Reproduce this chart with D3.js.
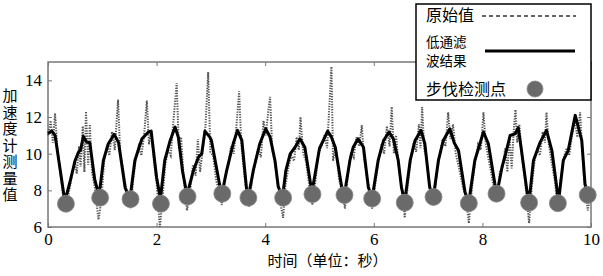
<!DOCTYPE html>
<html>
<head>
<meta charset="utf-8">
<script src="https://cdn.jsdelivr.net/npm/d3@7"></script>
<style>
  body { margin: 0; background: #fff; }
  svg { display: block; }
</style>
</head>
<body>
<div id="chart"></div>
<script>
// raw accelerometer samples (time s, value)
var rawT = [0.00,0.05,0.09,0.13,0.17,0.22,0.28,0.34,0.38,0.44,0.49,0.53,0.57,0.60,0.64,0.67,0.70,0.74,0.77,0.81,0.86,0.93,0.98,
  1.04,1.09,1.13,1.18,1.23,1.29,1.33,1.38,1.45,1.52,1.57,1.62,1.67,1.72,1.77,1.82,1.86,1.90,1.95,2.00,2.06,2.11,2.16,2.21,2.26,2.31,2.37,2.41,2.45,2.50,2.56,2.62,2.67,2.72,2.76,2.80,2.85,2.90,2.95,2.99,
  3.04,3.10,3.15,3.20,3.26,3.32,3.37,3.42,3.47,3.52,3.56,3.61,3.66,3.70,3.76,3.82,3.87,3.92,3.97,4.01,4.06,4.09,4.13,4.18,4.23,4.28,4.33,4.37,4.43,4.48,4.53,4.58,4.62,4.65,4.70,4.75,4.81,4.87,4.93,4.98,
  5.04,5.09,5.14,5.18,5.22,5.25,5.30,5.36,5.41,5.47,5.52,5.58,5.63,5.68,5.73,5.78,5.82,5.87,5.92,5.97,6.03,6.09,6.14,6.19,6.24,6.29,6.33,6.37,6.41,6.46,6.52,6.57,6.62,6.68,6.73,6.78,6.83,6.86,6.89,6.93,6.97,
  7.02,7.06,7.10,7.16,7.22,7.27,7.32,7.37,7.41,7.46,7.51,7.57,7.64,7.70,7.75,7.81,7.87,7.92,7.97,8.02,8.06,8.10,8.16,8.22,8.27,8.32,8.37,8.42,8.46,8.50,8.54,8.58,8.61,8.64,8.68,8.73,8.79,8.86,8.91,8.96,
  9.01,9.06,9.11,9.15,9.18,9.22,9.27,9.33,9.39,9.44,9.50,9.55,9.60,9.65,9.70,9.75,9.80,9.84,9.88,9.94,9.98];
var rawV = [11.0,11.8,10.6,12.2,10.4,9.2,7.6,6.8,7.8,8.8,9.6,8.9,10.4,9.3,11.5,9.0,12.3,9.4,11.6,9.0,8.2,6.4,7.4,
  9.8,10.4,9.9,11.2,10.2,12.95,10.0,9.2,7.9,7.0,8.6,9.8,10.4,9.9,11.0,12.9,10.5,11.3,9.6,8.4,6.0,7.6,9.4,10.2,9.9,11.8,13.85,10.3,10.9,8.6,6.9,8.0,9.4,8.8,10.8,9.0,10.2,11.5,14.45,10.1,
  9.9,8.5,8.0,7.2,8.7,9.4,10.4,10.0,11.5,13.4,10.5,9.0,7.8,7.1,8.6,9.6,10.3,9.8,11.8,11.0,12.4,13.1,10.2,9.5,8.5,7.3,6.5,8.2,9.3,9.9,9.6,10.9,10.2,12.0,10.0,9.6,8.3,7.2,8.6,10.0,
  10.4,11.0,10.3,12.5,14.75,9.6,10.4,8.6,8.0,7.0,8.8,10.1,9.8,10.9,10.4,11.55,9.7,8.8,8.1,7.0,8.4,9.7,10.5,10.0,11.5,10.4,12.55,10.0,11.0,9.3,8.0,6.5,8.1,9.7,10.6,10.1,11.6,10.3,12.55,10.2,9.8,
  8.4,8.0,7.2,9.0,10.0,10.8,10.4,12.25,10.8,11.6,10.0,9.2,8.2,7.6,6.2,8.2,9.6,10.5,10.2,12.25,10.6,9.9,9.0,8.0,7.4,9.0,9.2,10.3,9.0,10.9,9.2,11.4,12.4,10.6,11.6,9.8,8.4,6.2,8.2,9.6,
  10.2,9.9,11.2,10.6,12.25,10.6,9.6,8.6,7.0,8.6,9.8,10.3,9.9,11.0,11.8,10.9,12.25,10.0,8.4,6.9,7.6];

// low-pass filtered result
var filtT = [0.00,0.07,0.13,0.20,0.31,0.40,0.50,0.56,0.60,0.65,0.71,0.77,0.86,0.94,1.02,1.11,1.22,1.30,1.42,1.51,1.60,1.73,1.85,1.90,
  2.00,2.07,2.15,2.25,2.34,2.40,2.48,2.56,2.68,2.77,2.83,2.89,2.98,3.01,3.17,3.21,3.29,3.41,3.49,3.57,3.66,3.69,3.78,3.90,
  4.01,4.09,4.18,4.24,4.32,4.38,4.46,4.55,4.64,4.73,4.86,4.92,5.00,5.07,5.15,5.22,5.29,5.41,5.46,5.56,5.62,5.71,5.81,5.90,5.97,
  6.08,6.18,6.28,6.36,6.45,6.51,6.57,6.67,6.76,6.87,6.94,7.03,7.10,7.19,7.28,7.40,7.48,7.56,7.68,7.75,7.86,8.02,8.11,8.23,8.27,
  8.36,8.42,8.51,8.60,8.66,8.72,8.82,8.86,8.94,9.06,9.18,9.28,9.37,9.40,9.49,9.58,9.71,9.83,9.89,9.94];
var filtV = [11.1,11.23,11.0,9.6,7.4,8.4,9.63,10.08,10.2,10.94,10.63,10.6,8.6,7.7,9.63,10.54,11.05,10.6,8.15,7.55,9.63,10.81,11.18,11.23,
  8.7,7.55,9.63,10.72,11.45,10.9,9.0,7.75,9.1,9.8,9.99,11.23,10.9,10.72,8.15,7.9,9.08,10.54,11.27,10.72,7.97,7.65,9.07,10.54,
  11.36,10.9,9.63,8.2,7.65,9.07,9.99,10.35,10.81,10.35,7.9,8.9,10.3,10.72,11.23,10.9,10.35,8.15,7.8,9.63,10.35,10.81,10.35,8.15,7.6,
  9.63,10.72,11.18,10.81,9.63,8.15,7.4,9.63,10.72,11.27,10.54,8.15,7.7,9.63,10.72,11.36,10.6,10.17,7.9,7.35,9.63,11.18,10.54,8.34,7.85,
  9.25,9.9,10.99,11.08,11.42,10.17,7.97,7.4,9.63,10.6,11.27,10.17,8.15,7.35,9.63,10.17,12.09,10.72,8.34,7.8];

// detected steps
var stepT = [0.33,0.96,1.52,2.08,2.57,3.21,3.69,4.33,4.87,5.46,5.97,6.57,7.10,7.75,8.26,8.86,9.39,9.94];
var stepV = [7.27,7.60,7.52,7.27,7.66,7.82,7.60,7.60,7.79,7.74,7.55,7.33,7.64,7.30,7.82,7.33,7.30,7.75];

var xTicks = [0,2,4,6,8,10];
var yTicks = [6,8,10,12,14];
var yTitle = "加速度计测量值";
var xTitle = "时间（单位：秒）";
var legendNames = ["原始值", "低通滤", "波结果", "步伐检测点"];

var W = 603, H = 276;
var m = {left: 48, right: 12, top: 62, bottom: 49};

var svg = d3.select("#chart").append("svg")
  .attr("width", W)
  .attr("height", H);

var x = d3.scaleLinear().domain([0, 10]).range([m.left, W - m.right]);
var y = d3.scaleLinear().domain([6, 15]).range([H - m.bottom, m.top]);

var raw = rawT.map(function(t, i){ return [t, rawV[i]]; });
var filt = filtT.map(function(t, i){ return [t, filtV[i]]; });
var steps = stepT.map(function(t, i){ return [t, stepV[i]]; });

var line = d3.line().x(function(d){ return x(d[0]); }).y(function(d){ return y(d[1]); });

// frame
svg.append("rect")
  .attr("x", x(0)).attr("y", y(15))
  .attr("width", x(10) - x(0)).attr("height", y(6) - y(15))
  .attr("fill", "none").attr("stroke", "#777").attr("stroke-width", 1.5);

// axes with inward ticks, mirrored on top / right
var fontNum = "'Liberation Serif', 'DejaVu Serif', serif";
var gx = svg.append("g").attr("transform", "translate(0," + y(6) + ")")
  .call(d3.axisBottom(x).tickValues(xTicks).tickSizeInner(-4).tickSizeOuter(0).tickPadding(6));
var gy = svg.append("g").attr("transform", "translate(" + x(0) + ",0)")
  .call(d3.axisLeft(y).tickValues(yTicks).tickSizeInner(-4).tickSizeOuter(0).tickPadding(6));
svg.append("g").attr("transform", "translate(0," + y(15) + ")")
  .call(d3.axisTop(x).tickValues(xTicks).tickSizeInner(-4).tickSizeOuter(0).tickFormat(""));
svg.append("g").attr("transform", "translate(" + x(10) + ",0)")
  .call(d3.axisRight(y).tickValues(yTicks).tickSizeInner(-4).tickSizeOuter(0).tickFormat(""));
svg.selectAll(".domain").remove();
svg.selectAll(".tick line").attr("stroke", "#777");
svg.selectAll(".tick text")
  .style("font-family", fontNum).style("font-size", "17px").attr("fill", "#000");
gx.selectAll(".tick text").attr("dy", "0.72em");

// raw signal
svg.append("path").datum(raw)
  .attr("d", line)
  .attr("fill", "none")
  .attr("stroke", "#555")
  .attr("stroke-width", 2)
  .attr("stroke-dasharray", "1.3,1.3");

// filtered
svg.append("path").datum(filt)
  .attr("d", line)
  .attr("fill", "none")
  .attr("stroke", "#000")
  .attr("stroke-width", 3)
  .attr("stroke-linejoin", "round");

// steps
svg.selectAll("circle.step").data(steps).enter().append("circle")
  .attr("class", "step")
  .attr("cx", function(d){ return x(d[0]); })
  .attr("cy", function(d){ return y(d[1]); })
  .attr("r", 8.5)
  .attr("fill", "#6a6a6a")
  .attr("stroke", "#888")
  .attr("stroke-width", 0.8);

// titles
var fontCJK = "'Noto Sans CJK SC', sans-serif";
svg.append("text")
  .attr("x", (x(0) + x(10)) / 2 + 8).attr("y", 266)
  .attr("text-anchor", "middle")
  .attr("font-family", fontCJK).attr("font-size", 15)
  .text(xTitle);

// vertical y title, one text element
svg.append("text")
  .attr("x", 10).attr("y", 88)
  .style("writing-mode", "vertical-rl")
  .style("letter-spacing", "1.5px")
  .attr("font-family", fontCJK).attr("font-size", 15)
  .text(yTitle);

// legend
var lg = svg.append("g");
lg.append("rect")
  .attr("x", 416).attr("y", 4).attr("width", 175).attr("height", 96)
  .attr("fill", "#fff").attr("stroke", "#000").attr("stroke-width", 1.5);
lg.append("text").attr("x", 426).attr("y", 21)
  .attr("font-family", fontCJK).attr("font-size", 16).text(legendNames[0]);
lg.append("line").attr("x1", 482).attr("x2", 576).attr("y1", 16).attr("y2", 16)
  .attr("stroke", "#333").attr("stroke-width", 1.6).attr("stroke-dasharray", "4,3");
var two = lg.append("text")
  .attr("font-family", fontCJK).attr("font-size", 13.5);
two.append("tspan").attr("x", 426).attr("y", 46.5).text(legendNames[1]);
two.append("tspan").attr("x", 426).attr("y", 66).text(legendNames[2]);
lg.append("line").attr("x1", 485).attr("x2", 575).attr("y1", 51).attr("y2", 51)
  .attr("stroke", "#000").attr("stroke-width", 3);
lg.append("text").attr("x", 426).attr("y", 95)
  .attr("font-family", fontCJK).attr("font-size", 16).text(legendNames[3]);
lg.append("circle").attr("cx", 535).attr("cy", 89).attr("r", 8)
  .attr("fill", "#6a6a6a").attr("stroke", "#888").attr("stroke-width", 0.8);
</script>
</body>
</html>
